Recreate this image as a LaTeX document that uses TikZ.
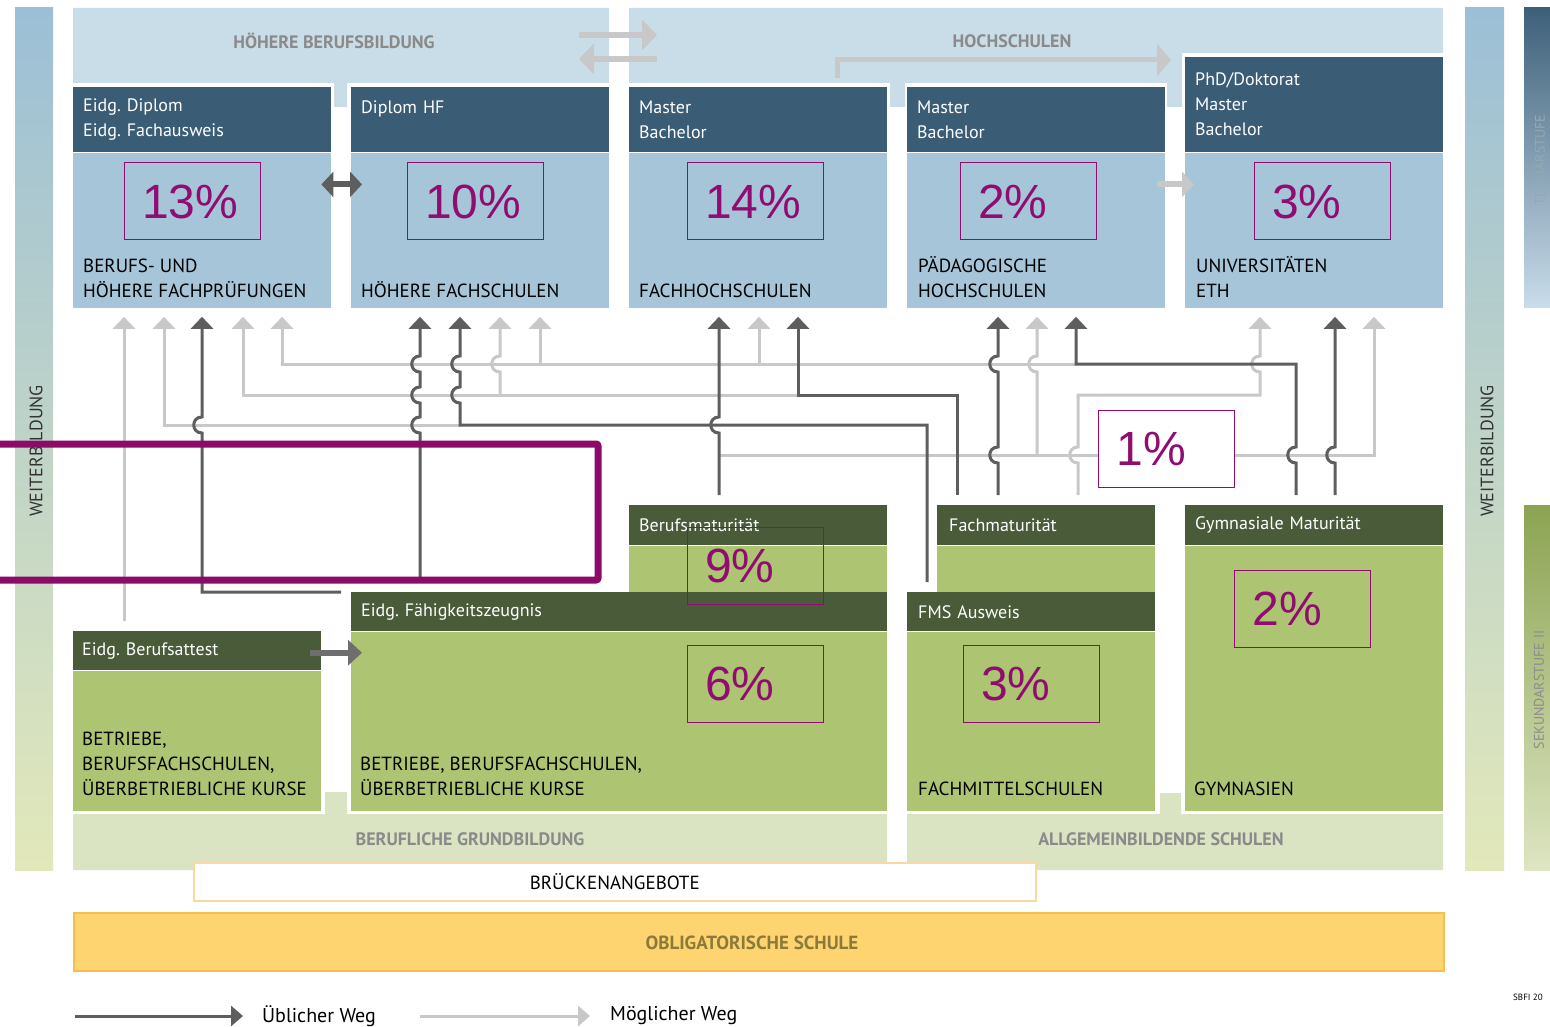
\documentclass[tikz,border=0pt]{standalone}
\usepackage{fontspec}
\setmainfont{PT Sans}
\newfontfamily\pctfont{Liberation Sans}
\usetikzlibrary{arrows.meta,calc,positioning}
\frenchspacing

\definecolor{headblue}{HTML}{3A5D75}
\definecolor{bodyblue}{HTML}{A6C5D9}
\definecolor{bandblue}{HTML}{C9DDE8}
\definecolor{headgreen}{HTML}{4A5B39}
\definecolor{bodygreen}{HTML}{ADC473}
\definecolor{bandgreen}{HTML}{DAE4C3}
\definecolor{pctmag}{HTML}{900C70}
\definecolor{markmag}{HTML}{8C0A68}
\definecolor{usualgray}{HTML}{5E5E5E}
\definecolor{possgray}{HTML}{C8C8C8}
\definecolor{bandtext}{HTML}{8A8A8A}
\definecolor{obliyellow}{HTML}{FDD470}
\definecolor{oblirim}{HTML}{F8BE4C}
\definecolor{obligtext}{HTML}{8C7A3A}
\definecolor{bridgerim}{HTML}{FBD8A2}
\definecolor{sideblue}{HTML}{9CBFD6}
\definecolor{sidepale}{HTML}{E2E8BA}
\definecolor{tertdark}{HTML}{3D6079}
\definecolor{tertpale}{HTML}{C9DCEA}
\definecolor{sekdark}{HTML}{8CA352}
\definecolor{sekpale}{HTML}{DDE5C2}

% bump of a vertical line over a crossing line (going upwards)
\newcommand{\linehop}[2]{-- (#1,#2+8) .. controls (#1-11,#2+8) and (#1-11,#2-8) .. (#1,#2-8)}

\tikzset{
head/.style={
  anchor=north west,
  inner xsep=10pt,
  inner ysep=0pt,
  text=white,
  align=left,
  font=\fontsize{18}{25}\selectfont},
bluehead/.style={head, fill=headblue, minimum height=65pt, text width=238pt},
bluebody/.style={
  anchor=north west,
  fill=bodyblue,
  minimum width=258pt,
  minimum height=155pt,
  inner sep=0pt},
greenbody/.style={anchor=north west, fill=bodygreen, inner sep=0pt},
caption/.style={inner sep=0pt, align=left, font=\fontsize{19}{25}\selectfont},
pct/.style={
  draw=pctmag,
  line width=1pt,
  text=pctmag,
  minimum width=136pt,
  minimum height=77pt,
  text width=100pt,
  inner xsep=18pt,
  inner ysep=0pt,
  align=left,
  font=\pctfont\fontsize{48}{50}\selectfont},
bandlabel/.style={text=bandtext, inner sep=0pt, font=\bfseries\fontsize{18}{20}\selectfont},
sidelabel/.style={rotate=90, inner sep=0pt, text=black!80, font=\fontsize{18}{20}\selectfont},
usual/.style={draw=usualgray, line width=3pt, -{Triangle[width=22pt,length=12pt]}, shorten >=9pt},
possible/.style={usual, draw=possgray},
src/.style={shorten <=10pt},
bandarrow/.style={draw=possgray, line width=6pt, -{Triangle[width=30pt,length=15pt]}},
legarrow/.style={line width=3pt, -{Triangle[width=20pt,length=12pt]}}
}

\begin{document}
\begin{tikzpicture}[x=1pt,y=-1pt]
\useasboundingbox (0,0) rectangle (1550,1027);
\clip (0,0) rectangle (1550,1027);

% side bars
\shade[top color=sideblue, bottom color=sidepale] (15,8) rectangle (53,870);
\shade[top color=sideblue, bottom color=sidepale] (1465,8) rectangle (1504,870);
\shade[top color=tertdark, bottom color=tertpale] (1524,8) rectangle (1562,307);
\shade[top color=sekdark, bottom color=sekpale] (1524,505) rectangle (1562,870);
\node[sidelabel] (wbl) at (36,451) {WEITERBILDUNG};
\node[sidelabel] (wbr) at (1487,451) {WEITERBILDUNG};
\node[sidelabel, text=tertdark!55, font=\fontsize{14}{16}\selectfont] (tert) at (1539,160) {TERTIÄRSTUFE};
\node[sidelabel, text=black!45, font=\fontsize{14}{16}\selectfont] (sek) at (1539,690) {SEKUNDARSTUFE II};

% bands
\fill[bandblue] (73,8) rectangle (609,83) (334,83) rectangle (347,107);
\fill[bandblue] (629,8) rectangle (1443,53) (629,53) rectangle (1182,83)
  (890,83) rectangle (905,107) (1167,53) rectangle (1182,107);
\fill[bandgreen] (73,814) rectangle (887,870) (325,792) rectangle (347,814);
\fill[bandgreen] (907,814) rectangle (1443,870) (1160,793) rectangle (1181,814);
\node[bandlabel] (hbb) at (334,41) {HÖHERE BERUFSBILDUNG};
\node[bandlabel] (hs) at (1012,41) {HOCHSCHULEN};
\node[bandlabel] (bg) at (470,839) {BERUFLICHE GRUNDBILDUNG};
\node[bandlabel] (ags) at (1161,839) {ALLGEMEINBILDENDE SCHULEN};

% tertiary level
\node[bluehead] (bpH) at (73,87) {Eidg. Diplom\\Eidg. Fachausweis};
\node[bluebody] (bp) at (bpH.south west) {};
\node[caption, above right=10pt and 10pt of bp.south west] (bpT) {BERUFS- UND\\HÖHERE FACHPRÜFUNGEN};

\node[bluehead] (hfH) at (351,87) {Diplom HF\\\mbox{}};
\node[bluebody] (hf) at (hfH.south west) {};
\node[caption, above right=10pt and 10pt of hf.south west] (hfT) {HÖHERE FACHSCHULEN};

\node[bluehead] (fhH) at (629,87) {Master\\Bachelor};
\node[bluebody] (fh) at (fhH.south west) {};
\node[caption, above right=10pt and 10pt of fh.south west] (fhT) {FACHHOCHSCHULEN};

\node[bluehead] (phH) at (907,87) {Master\\Bachelor};
\node[bluebody] (ph) at (phH.south west) {};
\node[caption, above right=10pt and 11pt of ph.south west] (phT) {PÄDAGOGISCHE\\HOCHSCHULEN};

\node[bluehead, minimum height=95pt] (uniH) at (1185,57) {PhD/Doktorat\\Master\\Bachelor};
\node[bluebody] (uni) at (uniH.south west) {};
\node[caption, above right=10pt and 11pt of uni.south west] (uniT) {UNIVERSITÄTEN\\ETH};

% secondary level II
\node[head, fill=headgreen, minimum height=40pt, text width=238pt] (bmH) at (629,505) {Berufsmaturität};
\node[greenbody, minimum width=258pt, minimum height=47pt] (bm) at (bmH.south west) {};

\node[head, fill=headgreen, minimum height=40pt, text width=194pt, inner xsep=12pt] (fmatH) at (937,505) {Fachmaturität};
\node[greenbody, minimum width=218pt, minimum height=47pt] (fmat) at (fmatH.south west) {};

\node[head, fill=headgreen, minimum height=40pt, text width=238pt] (gymH) at (1185,505) {Gymnasiale Maturität};
\node[greenbody, minimum width=258pt, minimum height=265pt] (gym) at (gymH.south west) {};
\node[caption, above right=15pt and 9pt of gym.south west] (gymT) {GYMNASIEN};

\node[head, fill=headgreen, minimum height=39pt, text width=516pt] (efzH) at (351,592) {Eidg. Fähigkeitszeugnis};
\node[greenbody, minimum width=536pt, minimum height=179pt] (efz) at (efzH.south west) {};
\node[caption, above right=15pt and 9pt of efz.south west] (efzT) {BETRIEBE, BERUFSFACHSCHULEN,\\ÜBERBETRIEBLICHE KURSE};

\node[head, fill=headgreen, minimum height=39pt, text width=226pt, inner xsep=11pt] (fmsH) at (907,592) {FMS Ausweis};
\node[greenbody, minimum width=248pt, minimum height=179pt] (fms) at (fmsH.south west) {};
\node[caption, above right=15pt and 11pt of fms.south west] (fmsT) {FACHMITTELSCHULEN};

\node[head, fill=headgreen, minimum height=39pt, text width=230pt, inner xsep=9pt] (ebaH) at (73,631) {Eidg. Berufsattest};
\node[greenbody, minimum width=248pt, minimum height=140pt] (eba) at (ebaH.south west) {};
\node[caption, above right=15pt and 9pt of eba.south west] (ebaT) {BETRIEBE,\\BERUFSFACHSCHULEN,\\ÜBERBETRIEBLICHE KURSE};

% bridge and compulsory school
\node[draw=bridgerim, fill=white, line width=1.5pt, minimum width=842pt, minimum height=38pt,
  anchor=north west, font=\fontsize{19}{20}\selectfont] (bruecke) at (193,862) {BRÜCKENANGEBOTE};
\node[draw=oblirim, fill=obliyellow, line width=1.5pt, minimum width=1370pt, minimum height=58pt,
  anchor=north west] (oblig) at (73,912) {};
\node[text=obligtext, inner sep=0pt, font=\bfseries\fontsize{19}{20}\selectfont] (obligT) at (752,943) {OBLIGATORISCHE SCHULE};

% possible ways
\draw[possible, src] (124,0 |- ebaH.north) -- (124,0 |- bp.south);
\draw[possible] (460,425) -- (164,425) -- (164,0 |- bp.south);
\draw[possible] (798,395) -- (243,395) -- (243,0 |- bp.south);
\draw[possible] (500,395) \linehop{500}{364} -- (500,0 |- hf.south);
\draw[possible] (1076,364) -- (282,364) -- (282,0 |- bp.south);
\draw[possible] (540,364) -- (540,0 |- hf.south);
\draw[possible] (759,364) -- (759,0 |- fh.south);
\draw[possible] (719,455) -- (1374,455) -- (1374,0 |- uni.south);
\draw[possible] (1037,455) \linehop{1037}{364} -- (1037,0 |- ph.south);
\draw[possible, src] (1078,0 |- fmatH.north) \linehop{1078}{455} -- (1078,395) -- (1260,395)
  \linehop{1260}{364} -- (1260,0 |- uni.south);

% usual ways
\draw[usual, src] (efzH.north west) -- (202,0 |- efzH.north) \linehop{202}{425} -- (202,0 |- bp.south);
\draw[usual, src] (420,0 |- efzH.north) \linehop{420}{425} \linehop{420}{395} \linehop{420}{364} -- (420,0 |- hf.south);
\draw[usual, src] (927,0 |- fmsH.north) -- (927,425) -- (460,425) \linehop{460}{395} \linehop{460}{364} -- (460,0 |- hf.south);
\draw[usual, src] (719,0 |- bmH.north) \linehop{719}{425} -- (719,0 |- fh.south);
\draw[usual, src] (957,0 |- fmatH.north) -- (957,395) -- (798,395) -- (798,0 |- fh.south);
\draw[usual, src] (998,0 |- fmatH.north) \linehop{998}{455} \linehop{998}{364} -- (998,0 |- ph.south);
\draw[usual, src] (1296,0 |- gymH.north) \linehop{1296}{455} -- (1296,364) -- (1076,364) -- (1076,0 |- ph.south);
\draw[usual, src] (1335,0 |- gymH.north) \linehop{1335}{455} -- (1335,0 |- uni.south);

% arrows between boxes
\draw[usualgray, line width=6pt, {Triangle[width=25pt,length=12pt]}-{Triangle[width=25pt,length=12pt]}]
  ([xshift=-10pt,yshift=-32pt]bp.north east) -- ([xshift=11pt,yshift=-32pt]hf.north west);
\draw[possgray, line width=6pt, -{Triangle[width=25pt,length=12pt]}]
  ([xshift=-8pt,yshift=-32pt]ph.north east) -- ([xshift=9pt,yshift=-32pt]uni.north west);
\draw[usualgray!90, line width=6pt, -{Triangle[width=25pt,length=14pt]}]
  ($(ebaH.east -| eba.east)+(-11,2)$) -- ($(ebaH.east -| efz.west)+(11,2)$);

% arrows in the bands
\coordinate (swA) at (579,35);
\coordinate (swB) at (657,35);
\coordinate (swC) at (657,59);
\coordinate (swD) at (579,59);
\draw[bandarrow] (swA) -- (swB);
\draw[bandarrow] (swC) -- (swD);
\coordinate (hsA) at (837,78);
\coordinate (hsB) at (1171,60);
\draw[bandarrow, line width=5pt, -{Triangle[width=32pt,length=14pt]}] (hsA) |- (hsB);

% percentages
\node[pct] (p13) at (192,201.5) {13\%};
\node[pct] (p10) at (475,201.5) {10\%};
\node[pct] (p14) at (755,201.5) {14\%};
\node[pct] (p2a) at (1028,201.5) {2\%};
\node[pct] (p3a) at (1322,201.5) {3\%};
\node[pct, fill=white] (p1) at (1166.5,448.5) {1\%};
\node[pct] (p9) at (755,565.5) {9\%};
\node[pct] (p6) at (755,683.5) {6\%};
\node[pct] (p3b) at (1031,683.5) {3\%};
\node[pct] (p2b) at (1302.5,609) {2\%};

% legend
\coordinate (lgU) at (75,1016);
\node[anchor=west, inner sep=0pt, font=\fontsize{20}{22}\selectfont] (lgUt) at (262,1016) {Üblicher Weg};
\draw[legarrow, usualgray] (lgU) -- ([xshift=-19pt]lgUt.west);
\coordinate (lgM) at (420,1016);
\node[anchor=west, inner sep=0pt, font=\fontsize{20}{22}\selectfont] (lgMt) at (610,1016) {Möglicher Weg};
\draw[legarrow, possgray] (lgM) -- ([xshift=-20pt]lgMt.west);
\node[anchor=west, inner sep=0pt, font=\fontsize{9}{10}\selectfont] (sbfi) at (1513,997) {SBFI 20};

% highlight
\draw[markmag, line width=7pt, rounded corners=2pt] (-10,444) -- (598,444) -- (598,580) -- (-10,580);
\end{tikzpicture}
\end{document}
